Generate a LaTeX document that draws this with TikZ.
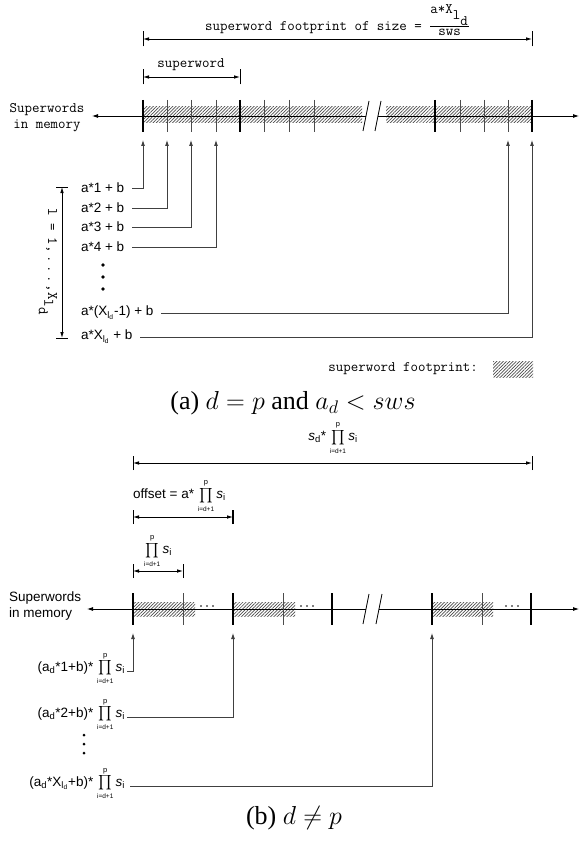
\RequirePackage{fix-cm}
\documentclass[tikz,border=0pt]{standalone}
\usepackage{exscale}
\usepackage{fontspec}
\setmainfont{Liberation Serif}
\setsansfont{Liberation Sans}
\usetikzlibrary{arrows.meta,patterns.meta}
\newcommand{\piS}{$\mathop{\textstyle\prod}\limits_{\mbox{\fontsize{6.5}{7}\selectfont i=d+1}}^{\mbox{\fontsize{7.5}{8}\selectfont p}}$\,\textit{s}\textsubscript{i}}
\begin{document}
\begin{tikzpicture}[x=1pt,y=-1pt,
  mono/.style={font=\fontsize{14.5}{16}\selectfont\ttfamily, inner sep=0pt},
  sl/.style={font=\fontsize{13.5}{16}\selectfont\sffamily, inner sep=0pt},
  albl/.style={sl, outer xsep=8pt},
  blbl/.style={sl, outer xsep=2pt},
  memline/.style={line width=0.8pt},
  thicktick/.style={line width=2.3pt},
  thintick/.style={line width=0.7pt, black!70},
  hatch/.style={pattern={Lines[angle=45,distance=2.3pt,line width=0.7pt]}, pattern color=black!70},
  conn/.style={line width=0.8pt, black!75, -{Latex[length=6pt,width=4pt]}},
  dimarrow/.style={line width=0.8pt, {Latex[length=6pt,width=3.6pt]}-{Latex[length=6pt,width=3.6pt]}},
  dimtick/.style={line width=0.8pt},
  brk/.style={line width=0.8pt},
  captxt/.style={font=\fontsize{26}{28}\selectfont, inner sep=0pt}
]
\useasboundingbox (0,0) rectangle (580,845);

%================ (a) =================
\node[mono, anchor=west] (title) at (205,20) {superword footprint of size = $\frac{\texttt{a*X}_{\texttt{l}_{\texttt{d}}}}{\texttt{sws}}$};
\coordinate (fa1) at (143,39); \coordinate (fa2) at (532,39);
\draw[dimarrow] (fa1) -- (fa2);
\draw[dimtick] ([yshift=-7.5pt]fa1) -- ([yshift=7.5pt]fa1);
\draw[dimtick] ([yshift=-7.5pt]fa2) -- ([yshift=7.5pt]fa2);

\node[mono] (swlbl) at (191,65) {superword};
\coordinate (sa1) at (143,77); \coordinate (sa2) at (240,77);
\draw[dimarrow] (sa1) -- (sa2);
\draw[dimtick] ([yshift=-7.5pt]sa1) -- ([yshift=7.5pt]sa1);
\draw[dimtick] ([yshift=-7.5pt]sa2) -- ([yshift=7.5pt]sa2);

\node[mono, align=center] (mema) at (47,118) {Superwords\\in memory};

\fill[hatch] (143,107) rectangle (362,123);
\fill[hatch] (386,107) rectangle (532,123);

\coordinate (maL) at (92,116); \coordinate (maR) at (579,116);
\coordinate (ba1) at (366,116); \coordinate (ba2) at (378,116);
\draw[memline, {Latex[length=6pt,width=4pt]}-] (maL) -- (ba1);
\draw[memline, -{Latex[length=6pt,width=4pt]}] (ba2) -- (maR);
\draw[brk] ([shift={(3,-15)}]ba1) -- ([shift={(-3,15)}]ba1);
\draw[brk] ([shift={(3,-15)}]ba2) -- ([shift={(-3,15)}]ba2);

\foreach \x in {143,240,435,532} \draw[thicktick] (\x,100) -- (\x,132);
\foreach \x in {167,191,216,264,289,314,460,484,508} \draw[thintick] (\x,100) -- (\x,132);

\coordinate (ta0) at (143,140); \coordinate (ta1) at (167,140);
\coordinate (ta2) at (191,140); \coordinate (ta3) at (216,140);
\coordinate (ta11) at (508,140); \coordinate (ta12) at (532,140);

\node[albl, anchor=west] (a1) at (73,188) {a*1 + b};
\node[albl, anchor=west] (a2) at (73,208) {a*2 + b};
\node[albl, anchor=west] (a3) at (73,227) {a*3 + b};
\node[albl, anchor=west] (a4) at (73,247) {a*4 + b};
\node[albl, anchor=west] (a5) at (73,313) {a*(X\textsubscript{l\textsubscript{d}}-1) + b};
\node[albl, anchor=west] (a6) at (73,337) {a*X\textsubscript{l\textsubscript{d}} + b};
\draw[conn] (a1.east) -| (ta0);
\draw[conn] (a2.east) -| (ta1);
\draw[conn] (a3.east) -| (ta2);
\draw[conn] (a4.east) -| (ta3);
\draw[conn] (a5.east) -| (ta11);
\draw[conn] (a6.east) -| (ta12);

\foreach \y in {265,277,289} \fill (103,\y) circle (1.8);

\coordinate (rt) at (62,187); \coordinate (rb) at (62,338);
\draw[dimarrow] (rt) -- (rb);
\draw[dimtick] ([xshift=-6pt]rt) -- ([xshift=6pt]rt);
\draw[dimtick] ([xshift=-6pt]rb) -- ([xshift=6pt]rb);
\node[mono, rotate=-90] (rng) at (48,262) {l = 1,\,.\,.\,.\,,X$_{\texttt{l}_{\texttt{d}}}$};

\node[mono, anchor=east] (leg) at (478,369) {superword footprint:};
\node[hatch, minimum width=40pt, minimum height=16pt, anchor=west, inner sep=0pt] (legbox) at (493,369) {};

\node[captxt] (capa) at (293,403) {(a) $d = p$ and $a_d < sws$};

%================ (b) =================
\node[sl] (sdlbl) at (333,438) {\textit{s}\textsubscript{d}* \piS};
\coordinate (fb1) at (133,463); \coordinate (fb2) at (532,463);
\draw[dimarrow] (fb1) -- (fb2);
\draw[dimtick] ([yshift=-7pt]fb1) -- ([yshift=7pt]fb1);
\draw[dimtick] ([yshift=-7pt]fb2) -- ([yshift=7pt]fb2);

\node[sl, anchor=west] (offlbl) at (133,496) {offset = a* \piS};
\coordinate (ob1) at (133,517); \coordinate (ob2) at (233,517);
\draw[dimarrow] (ob1) -- (ob2);
\draw[dimtick] ([yshift=-7pt]ob1) -- ([yshift=7pt]ob1);
\draw[line width=1.6pt] ([yshift=-7pt]ob2) -- ([yshift=7pt]ob2);

\node[sl] (pilbl) at (158,551) {\piS};
\coordinate (pb1) at (133,571); \coordinate (pb2) at (183,571);
\draw[dimarrow] (pb1) -- (pb2);
\draw[dimtick] ([yshift=-7pt]pb1) -- ([yshift=7pt]pb1);
\draw[dimtick] ([yshift=-7pt]pb2) -- ([yshift=7pt]pb2);

\node[sl, align=left, anchor=west] (memb) at (9,606) {Superwords\\in memory};

\fill[hatch] (133,602) rectangle (195,616);
\fill[hatch] (233,602) rectangle (295,616);
\fill[hatch] (432,602) rectangle (493,616);

\coordinate (mbL) at (87,609); \coordinate (mbR) at (579,609);
\coordinate (bb1) at (366,609); \coordinate (bb2) at (379,609);
\draw[memline, {Latex[length=6pt,width=4pt]}-] (mbL) -- (bb1);
\draw[memline, -{Latex[length=6pt,width=4pt]}] (bb2) -- (mbR);
\draw[brk] ([shift={(3,-15)}]bb1) -- ([shift={(-3,15)}]bb1);
\draw[brk] ([shift={(3,-15)}]bb2) -- ([shift={(-3,15)}]bb2);

\foreach \x in {133,233,332,432,531} \draw[thicktick] (\x,593) -- (\x,625);
\foreach \x in {183,283,482} \draw[thintick] (\x,593) -- (\x,625);
\foreach \x in {201,301,506} {\fill (\x,606) circle (0.9); \fill (\x+6,606) circle (0.9); \fill (\x+12,606) circle (0.9);}

\coordinate (tb0) at (133,633); \coordinate (tb1) at (233,633); \coordinate (tb2) at (432,633);

\node[blbl, anchor=base east] (b1) at (127,671) {(a\textsubscript{d}*1+b)* \piS};
\node[blbl, anchor=base east] (b2) at (127,717) {(a\textsubscript{d}*2+b)* \piS};
\node[blbl, anchor=base east, outer xsep=5pt] (b3) at (130,786) {(a\textsubscript{d}*X\textsubscript{l\textsubscript{d}}+b)* \piS};
\draw[conn] (b1.base east) -| (tb0);
\draw[conn] (b2.base east) -| (tb1);
\draw[conn] (b3.base east) -| (tb2);

\foreach \y in {735,744,753} \fill (84,\y) circle (1.5);

\node[captxt] (capb) at (294,818) {(b) $d \neq p$};
\end{tikzpicture}
\end{document}
